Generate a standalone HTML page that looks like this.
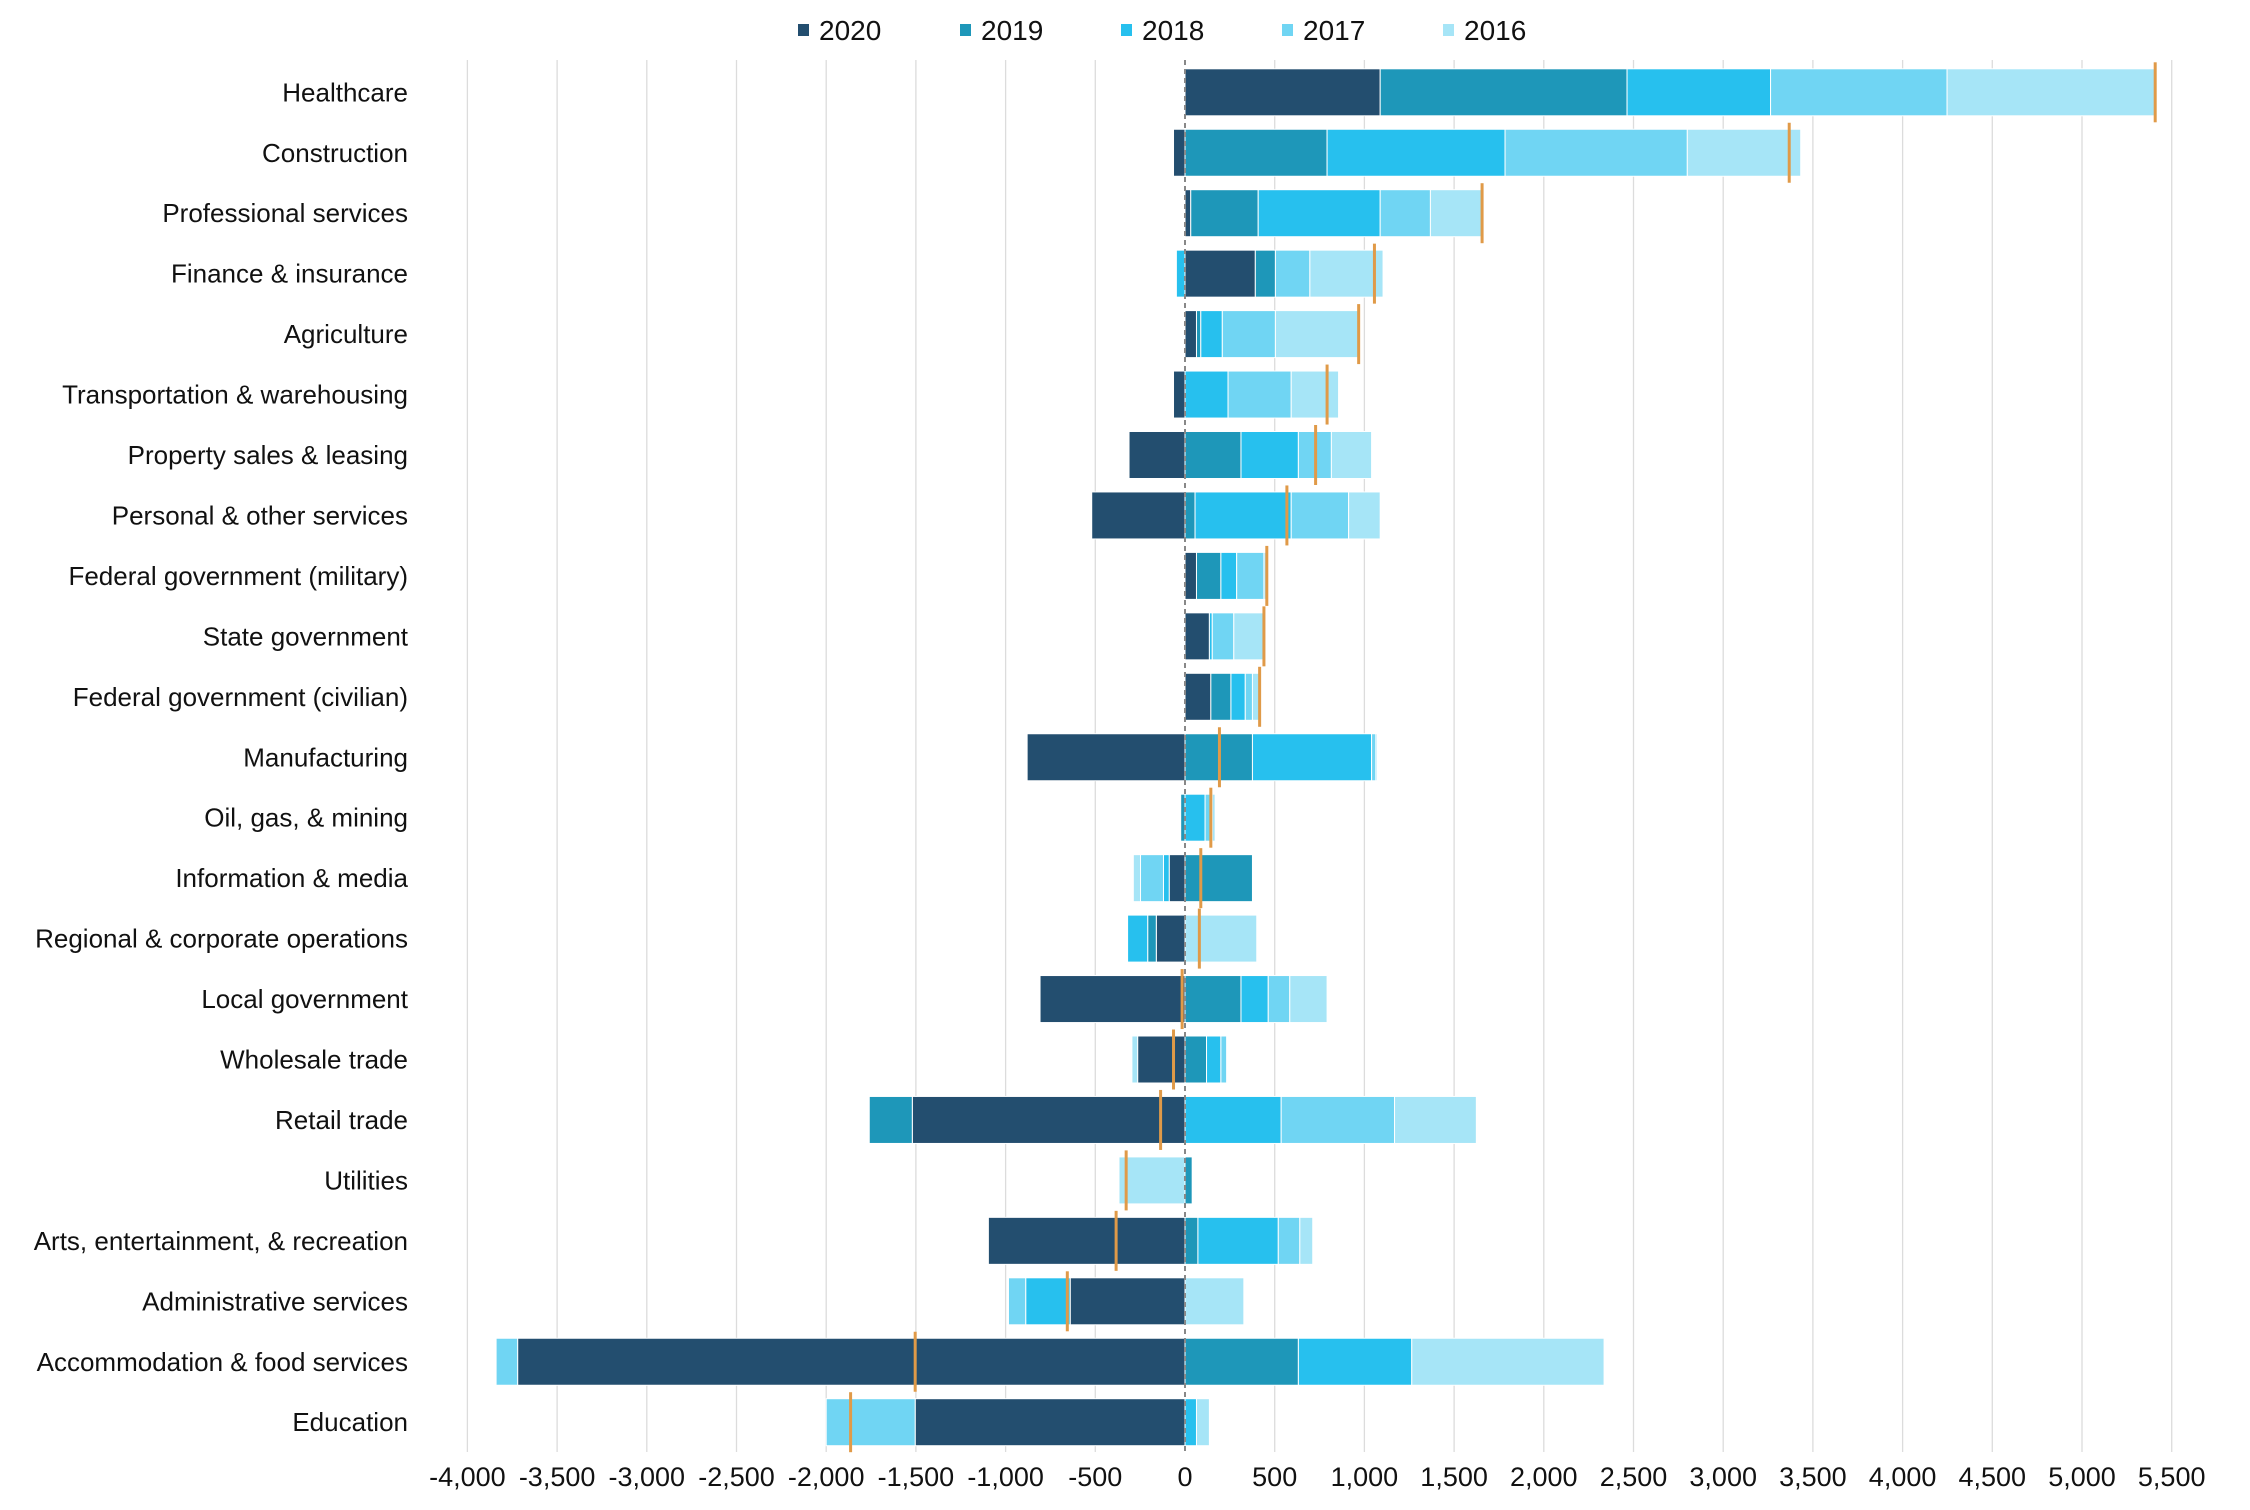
<!DOCTYPE html>
<html><head><meta charset="utf-8">
<style>
html,body{margin:0;padding:0;background:#fff;}
svg{display:block;font-family:"Liberation Sans",sans-serif;}
</style></head>
<body>
<svg id="chart" width="2250" height="1510" viewBox="0 0 2250 1510" xmlns="http://www.w3.org/2000/svg"></svg>
<script>
const categories = ["Healthcare","Construction","Professional services","Finance & insurance","Agriculture","Transportation & warehousing","Property sales & leasing","Personal & other services","Federal government (military)","State government","Federal government (civilian)","Manufacturing","Oil, gas, & mining","Information & media","Regional & corporate operations","Local government","Wholesale trade","Retail trade","Utilities","Arts, entertainment, & recreation","Administrative services","Accommodation & food services","Education"];
const seriesNames = ["2020","2019","2018","2017","2016"];
const v2020 = [1088,-64,32,392,64,-64,-312,-520,64,136,144,-880,0,-88,-160,-808,-264,-1520,0,-1096,-640,-3720,-1504];
const v2019 = [1376,792,376,112,24,0,312,56,136,0,112,376,-24,376,-48,312,120,-240,40,72,0,632,0];
const v2018 = [800,992,680,-48,120,240,320,536,88,16,80,664,112,-32,-112,152,80,536,0,448,-248,632,64];
const v2017 = [984,1016,280,192,296,352,184,320,152,120,40,24,40,-128,0,120,32,632,0,120,-96,-120,-496];
const v2016 = [1160,632,288,408,464,264,224,176,16,168,40,8,16,-40,400,208,-32,456,-368,72,328,1072,72];
const xTicks = [-4000,-3500,-3000,-2500,-2000,-1500,-1000,-500,0,500,1000,1500,2000,2500,3000,3500,4000,4500,5000,5500];

const colors = ["#234e6f","#1e97b9","#27c0ee","#70d5f3","#a6e5f7"];
const series = [v2020,v2019,v2018,v2017,v2016];
const NS = "http://www.w3.org/2000/svg";
const svg = document.getElementById("chart");
const X0 = 1185, PX = 89.7/500;
const x = v => X0 + v*PX;
const Y0 = 92.3, ROW = 60.45, BH = 47;
const y = i => Y0 + i*ROW;
const GT = 60, GB = 1452;
function el(tag, attrs, parent){const e=document.createElementNS(NS,tag);for(const k in attrs)e.setAttribute(k,attrs[k]);(parent||svg).appendChild(e);return e;}

xTicks.forEach(t=>{
  if(t!==0){
    const g = el("line",{x1:x(t),x2:x(t),y1:GT,y2:GB,stroke:"#dcdcdc","stroke-width":1.3});
    
    
  }
  const lbl = el("text",{x:x(t),y:1486,"text-anchor":"middle","font-size":27,fill:"#111"});
  lbl.textContent = t.toLocaleString("en-US");
  
  
});

categories.forEach((c,i)=>{
  let pos=0, neg=0, total=0;
  const cy = y(i);
  series.forEach((s,k)=>{
    const v = s[i]; total += v;
    if(v===0) return;
    let a,b;
    if(v>0){a=pos;b=pos+v;pos=b;} else {a=neg+v;b=neg;neg=a;}
    const r = el("rect",{x:x(a),y:cy-BH/2,width:Math.max(0.5,x(b)-x(a)),height:BH,fill:colors[k],stroke:"#fff","stroke-width":1});
    
    
  });
  const m = el("line",{x1:x(total),x2:x(total),y1:cy-30,y2:cy+30,stroke:"#e09a48","stroke-width":3});
  
  
  const t = el("text",{x:408,y:cy+9,"text-anchor":"end","font-size":26,fill:"#111"});
  t.textContent = c;
  
  
});

const z = el("line",{x1:x(0),x2:x(0),y1:GT,y2:GB,stroke:"#888","stroke-width":2,"stroke-dasharray":"5,4"});



const LX = [798,960,1121,1282,1443];
seriesNames.forEach((n,k)=>{
  const g = el("g",{});
  
  
  el("rect",{x:LX[k],y:24,width:11,height:12,fill:colors[k]},g);
  const t = el("text",{x:LX[k]+21,y:40,"font-size":28,fill:"#111"},g);
  t.textContent = n;
});
</script>
</body></html>
